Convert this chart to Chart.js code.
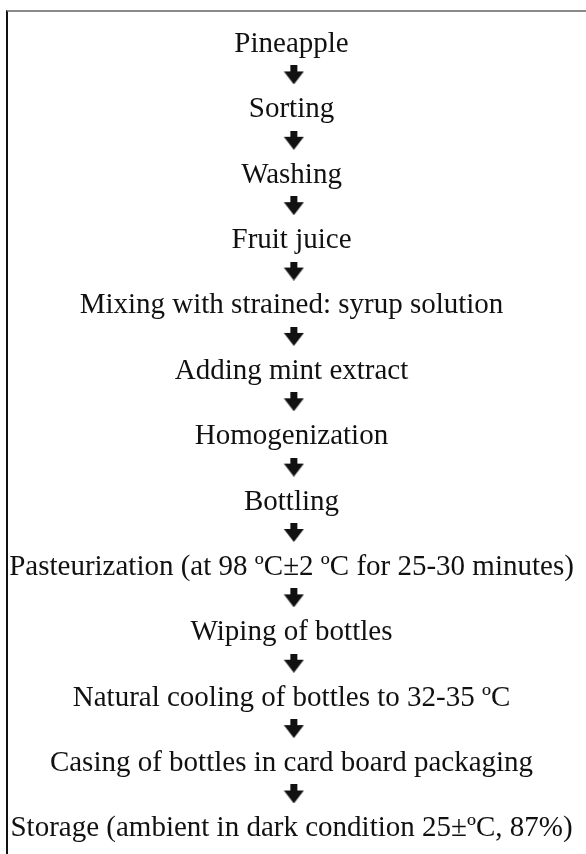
<!DOCTYPE html>
<html>
<head>
<meta charset="utf-8">
<script src="https://cdn.jsdelivr.net/npm/chart.js@4.4.1/dist/chart.umd.min.js"></script>
<style>
  html, body { margin: 0; padding: 0; background: #fff; }
  #box {
    position: absolute; left: 6px; top: 10px;
    width: 578px; height: 842px;
    border-top: 2px solid #8a8a8a;
    border-left: 2px solid #111;
  }
</style>
</head>
<body>
<div id="box"><canvas id="flow"></canvas></div>
<script>
// process steps, top to bottom
const steps = [
  'Pineapple',
  'Sorting',
  'Washing',
  'Fruit juice',
  'Mixing with strained: syrup solution',
  'Adding mint extract',
  'Homogenization',
  'Bottling',
  'Pasteurization (at 98 \u00baC\u00b12 \u00baC for 25-30 minutes)',
  'Wiping of bottles',
  'Natural cooling of bottles to 32-35 \u00baC',
  'Casing of bottles in card board packaging',
  'Storage (ambient in dark condition 25\u00b1\u00baC, 87%)'
];
// order of each step
const stepOrder = steps.map((s, i) => i);
// an arrow sits between each step and the next
const arrowOrder = stepOrder.slice(0, -1).map(i => i + 0.35);

// arrow glyph used as point style
function makeArrow() {
  const c = document.createElement('canvas');
  c.width = 21; c.height = 19;
  const g = c.getContext('2d');
  g.fillStyle = '#111';
  g.fillRect(7, 0, 7, 8);
  g.beginPath();
  g.moveTo(0.5, 6);
  g.lineTo(20.5, 6);
  g.lineTo(10.5, 19);
  g.closePath();
  g.fill();
  return c;
}

// draws each step's text where the library placed its point (at the baseline)
const stepLabels = {
  id: 'stepLabels',
  afterDatasetsDraw(chart) {
    const ctx = chart.ctx;
    const meta = chart.getDatasetMeta(0);
    ctx.save();
    ctx.font = '29px "Liberation Serif", "Times New Roman", serif';
    ctx.fillStyle = '#111';
    ctx.textAlign = 'center';
    ctx.textBaseline = 'alphabetic';
    meta.data.forEach((pt, i) => {
      ctx.fillText(steps[i], pt.x, pt.y);
    });
    ctx.restore();
  }
};

new Chart(document.getElementById('flow'), {
  type: 'scatter',
  data: {
    datasets: [
      {
        label: 'steps',
        data: stepOrder.map(i => ({ x: 0, y: i })),
        pointRadius: 0
      },
      {
        label: 'arrows',
        data: arrowOrder.map(v => ({ x: 0.008, y: v })),
        pointStyle: makeArrow(),
        pointRadius: 10
      }
    ]
  },
  options: {
    responsive: true,
    maintainAspectRatio: false,
    animation: false,
    layout: { padding: 0, autoPadding: false },
    plugins: { legend: { display: false }, tooltip: { enabled: false } },
    scales: {
      x: { display: false, min: -0.981, max: 1.019 },
      y: { display: false, reverse: true, min: -0.612, max: 12.268 }
    }
  },
  plugins: [stepLabels]
});
</script>
</body>
</html>
